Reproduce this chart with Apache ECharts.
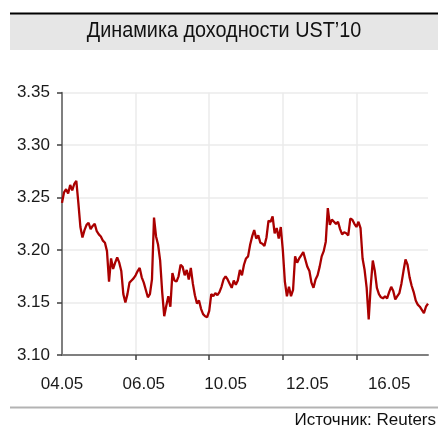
<!DOCTYPE html>
<html>
<head>
<meta charset="utf-8">
<script src="https://cdn.jsdelivr.net/npm/echarts@6/dist/echarts.min.js"></script>
<style>
  html, body { margin: 0; padding: 0; background: #fff; }
  #chart { width: 438px; height: 429px; }
</style>
</head>
<body>
<div id="chart"></div>
<script>
// Trading days shown on the axis; each day holds a fixed number of intraday readings
const tradingDays = ['04.05', '05.05', '06.05', '09.05', '10.05', '11.05', '12.05', '13.05', '16.05'];
const pointsPerDay = 20;

// UST 10Y yield, %, intraday readings
const yieldValues = [
  3.245, 3.255, 3.258, 3.254, 3.262, 3.257, 3.263, 3.266, 3.245, 3.222,
  3.212, 3.219, 3.224, 3.226, 3.220, 3.223, 3.225, 3.218, 3.215, 3.213,
  3.209, 3.207, 3.199, 3.170, 3.192, 3.182, 3.188, 3.193, 3.188, 3.180,
  3.158, 3.150, 3.158, 3.169, 3.171, 3.173, 3.176, 3.180, 3.183, 3.174,
  3.169, 3.162, 3.155, 3.158, 3.172, 3.231, 3.213, 3.205, 3.190, 3.160,
  3.137, 3.147, 3.156, 3.146, 3.178, 3.171, 3.170, 3.175, 3.186, 3.184,
  3.176, 3.181, 3.172, 3.183, 3.168, 3.157, 3.149, 3.152, 3.144, 3.139,
  3.137, 3.136, 3.142, 3.158, 3.156, 3.159, 3.157, 3.160, 3.165, 3.172,
  3.175, 3.172, 3.168, 3.164, 3.171, 3.167, 3.171, 3.181, 3.176, 3.186,
  3.192, 3.194, 3.205, 3.213, 3.219, 3.211, 3.214, 3.207, 3.206, 3.204,
  3.212, 3.228, 3.227, 3.232, 3.216, 3.221, 3.211, 3.222, 3.200, 3.170,
  3.156, 3.165, 3.156, 3.162, 3.194, 3.188, 3.192, 3.195, 3.198, 3.191,
  3.184, 3.180, 3.169, 3.164, 3.172, 3.176, 3.184, 3.194, 3.199, 3.208,
  3.240, 3.224, 3.229, 3.227, 3.225, 3.227, 3.220, 3.215, 3.217, 3.216,
  3.214, 3.230, 3.229, 3.225, 3.222, 3.227, 3.221, 3.192, 3.181, 3.164,
  3.134, 3.166, 3.190, 3.180, 3.164, 3.158, 3.155, 3.154, 3.156, 3.154,
  3.160, 3.165, 3.161, 3.153, 3.156, 3.159, 3.168, 3.180, 3.191, 3.186,
  3.174, 3.166, 3.160, 3.152, 3.148, 3.146, 3.143, 3.140, 3.146, 3.149
];

// Y axis range and step
const yMin = 3.10, yMax = 3.35, yStep = 0.05;
// Every second trading day gets a label; ticks/grid fall on a finer step
const labelEvery = 40;
const tickEvery = 36;

const titleText = 'Динамика доходности UST\u201910';
const sourceText = 'Источник: Reuters';

// Category stamps: day + slot number within the day
const stamps = [];
tradingDays.forEach(d => {
  for (let k = 0; k < pointsPerDay; k++) stamps.push(d + '#' + k);
});

const FONT = '"Liberation Sans Narrow", "Arial Narrow", "Liberation Sans", Arial, sans-serif';

const chart = echarts.init(document.getElementById('chart'), null, { renderer: 'canvas' });
chart.setOption({
  animation: false,
  backgroundColor: '#ffffff',
  grid: { left: 62, right: 10, top: 92.7, bottom: 74, containLabel: false },
  xAxis: {
    type: 'category',
    data: stamps,
    boundaryGap: false,
    axisLine: { show: true, lineStyle: { color: '#7f7f7f', width: 2 } },
    axisTick: {
      show: true, length: 5, inside: false,
      interval: (i) => i > 0 && i % tickEvery === 0,
      lineStyle: { color: '#404040', width: 1.5 }
    },
    splitLine: {
      show: true,
      interval: (i) => i > 0 && i % tickEvery === 0,
      lineStyle: { color: '#ebebeb', width: 1.5 }
    },
    axisLabel: {
      interval: (i) => i % labelEvery === 0,
      formatter: (v) => v.split('#')[0],
      color: '#1a1a1a', fontFamily: FONT, fontSize: 17, margin: 21
    }
  },
  yAxis: {
    type: 'value',
    min: yMin, max: yMax, interval: yStep,
    axisLine: { show: true, lineStyle: { color: '#7f7f7f', width: 2 } },
    axisTick: { show: true, length: 5, lineStyle: { color: '#404040', width: 1.5 } },
    splitLine: { show: true, lineStyle: { color: '#ebebeb', width: 1.5 } },
    axisLabel: {
      formatter: (v) => v.toFixed(2),
      color: '#1a1a1a', fontFamily: FONT, fontSize: 17, margin: 12
    }
  },
  series: [{
    type: 'line',
    data: yieldValues,
    showSymbol: false,
    lineStyle: { color: '#aa0000', width: 2.3 },
    z: 3
  }],
  graphic: [
    { type: 'rect', shape: { x: 10, y: 14, width: 428, height: 36 }, style: { fill: '#e6e6e6' }, silent: true },
    { type: 'rect', shape: { x: 10, y: 12.5, width: 428, height: 2 }, style: { fill: '#000000' }, silent: true },
    {
      type: 'text', x: 224, y: 31, scaleX: 0.9,
      style: { text: titleText, fill: '#111', font: '22px ' + FONT, textAlign: 'center', textVerticalAlign: 'middle' },
      silent: true
    },
    { type: 'rect', shape: { x: 10, y: 406.5, width: 428, height: 2 }, style: { fill: '#b3b3b3' }, silent: true },
    {
      type: 'text', x: 436, y: 420,
      style: { text: sourceText, fill: '#111', font: '17px ' + FONT, textAlign: 'right', textVerticalAlign: 'middle' },
      silent: true
    }
  ]
});
</script>
</body>
</html>
